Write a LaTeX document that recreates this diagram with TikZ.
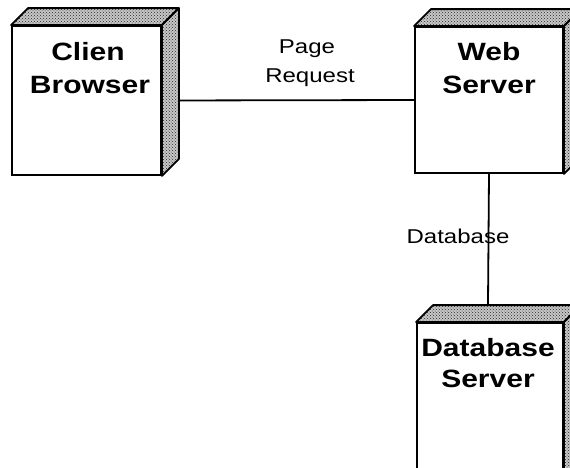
\documentclass[tikz,border=0pt]{standalone}
\usepackage{fontspec}
\setmainfont{Liberation Sans}
\usetikzlibrary{calc,patterns}
\newcommand\wideA[1]{\scalebox{1.2}[1]{#1}}
\newcommand\wideB[1]{\scalebox{1.2}[1]{#1}}
\newcommand\depthfaces[1]{%
  \draw[face] (#1.north west) -- ++(17,-17) -- ($(#1.north east)+(17,-17)$) -- (#1.north east) -- cycle;
  \draw[face] (#1.north east) -- ++(17,-17) -- ($(#1.south east)+(17,-17)$) -- (#1.south east) -- cycle;
}
\tikzset{
  front/.style={draw, line width=1.8pt, fill=white, inner sep=0pt},
  face/.style={line width=1.8pt, line join=round, preaction={fill=black!22}, pattern=crosshatch dots, pattern color=black!85},
  title/.style={font=\bfseries\fontsize{25}{30}\selectfont, anchor=base, inner sep=0pt},
  lbl/.style={font=\fontsize{20}{24}\selectfont, anchor=base, inner sep=0pt},
  conn/.style={line width=1.8pt}
}
\begin{document}
\begin{tikzpicture}[x=1pt,y=-1pt]
\useasboundingbox (0,0) rectangle (570,467);
\clip (0,0) rectangle (570,467);
% nodes (front faces)
\node[front, minimum width=149pt, minimum height=149pt] (client) at (86.5,100.5) {};
\node[front, minimum width=148pt, minimum height=146pt] (web) at (489,100) {};
\node[front, minimum width=146pt, minimum height=160pt] (db) at (490,403) {};
\coordinate (dbtop) at ($(db.north)+(-2,-18)$);
% connectors
\draw[conn] (client.east) -- (web.west);
\draw[conn] (web.south) -- (dbtop);
% depth faces
\depthfaces{client}
\depthfaces{web}
\depthfaces{db}
% titles
\node[title] (t1) at (88,60) {\wideA{Clien}};
\node[title] (t2) at (90,93) {\wideA{Browser}};
\node[title] (t3) at (489,60) {\wideA{Web}};
\node[title] (t4) at (489,93) {\wideA{Server}};
\node[title] (t5) at (488,356) {\wideA{Database}};
\node[title] (t6) at (488,387) {\wideA{Server}};
% connector labels
\node[lbl] (l1) at (307,53) {\wideB{Page}};
\node[lbl] (l2) at (310,82) {\wideB{Request}};
\node[lbl] (l3) at (458,243) {\wideB{Database}};
\end{tikzpicture}
\end{document}
